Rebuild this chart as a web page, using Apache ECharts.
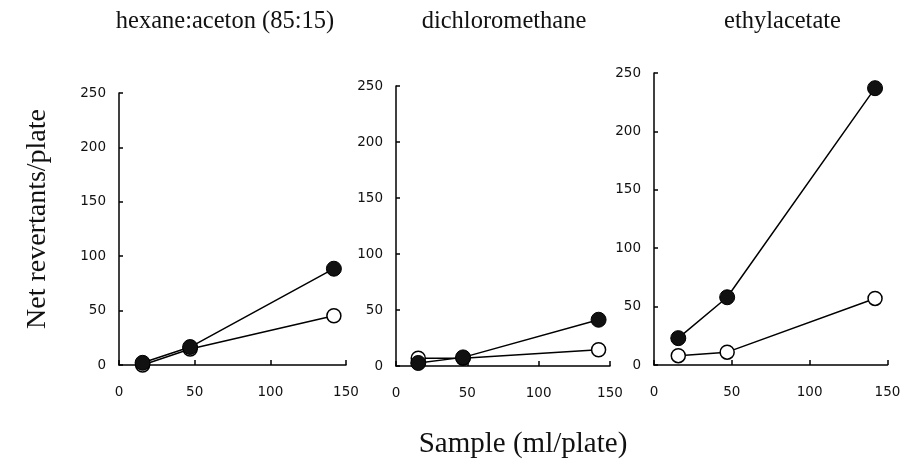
<!DOCTYPE html>
<html>
<head>
<meta charset="utf-8">
<script src="https://cdn.jsdelivr.net/npm/echarts@6/dist/echarts.min.js"></script>
<style>
html,body{margin:0;padding:0;background:#fff;}
#chart{width:913px;height:462px;}
</style>
</head>
<body>
<div id="chart"></div>
<script>
// ---- data ----
var panelTitles = ["hexane:aceton (85:15)", "dichloromethane", "ethylacetate"];
var doses = [15.6, 47, 142];
var xTicks = [0, 50, 100, 150];
var yTicks = [0, 50, 100, 150, 200, 250];
var filledHexane = [2, 16.5, 88.5];
var openHexane = [0, 14.7, 45.3];
var filledDichloro = [2.7, 7.7, 41.3];
var openDichloro = [7, 7, 14.5];
var filledEthyl = [23, 58, 237];
var openEthyl = [8, 11, 57];
var yAxisTitle = "Net revertants/plate";
var xAxisTitle = "Sample (ml/plate)";

var filledSets = [filledHexane, filledDichloro, filledEthyl];
var openSets = [openHexane, openDichloro, openEthyl];

function pairs(xs, ys) {
  return xs.map(function (x, i) { return [x, ys[i]]; });
}

var grids = [
  { left: 119, top: 93, width: 227, height: 272 },
  { left: 396, top: 86, width: 214, height: 280 },
  { left: 654, top: 73, width: 233.5, height: 292 }
];

var axisLineStyle = { color: '#000', width: 1.5 };
var labelFont = { fontFamily: 'DejaVu Sans', fontSize: 13.5, color: '#111' };

var xAxes = [], yAxes = [], series = [], graphics = [];
grids.forEach(function (g, i) {
  xAxes.push({
    type: 'value', gridIndex: i, min: xTicks[0], max: xTicks[xTicks.length - 1], interval: 50,
    axisLine: { show: true, lineStyle: axisLineStyle, onZero: false },
    axisTick: { show: true, inside: true, length: 5, lineStyle: axisLineStyle },
    axisLabel: Object.assign({ margin: 20 }, labelFont),
    splitLine: { show: false }
  });
  yAxes.push({
    type: 'value', gridIndex: i, min: yTicks[0], max: yTicks[yTicks.length - 1], interval: 50,
    axisLine: { show: true, lineStyle: axisLineStyle, onZero: false },
    axisTick: { show: true, inside: true, length: 4, lineStyle: axisLineStyle },
    axisLabel: Object.assign({ margin: 13 }, labelFont),
    splitLine: { show: false }
  });
  series.push({
    type: 'line', xAxisIndex: i, yAxisIndex: i,
    data: pairs(doses, openSets[i]),
    symbol: 'circle', symbolSize: 14,
    itemStyle: { color: '#fff', borderColor: '#000', borderWidth: 1.5 },
    lineStyle: { color: '#000', width: 1.5 },
    z: 2, animation: false
  });
  series.push({
    type: 'line', xAxisIndex: i, yAxisIndex: i,
    data: pairs(doses, filledSets[i]),
    symbol: 'circle', symbolSize: 15,
    itemStyle: { color: '#111', borderColor: '#000', borderWidth: 1 },
    lineStyle: { color: '#000', width: 1.5 },
    z: 3, animation: false
  });
});

var titleCenters = [225, 504, 782.5];
titleCenters.forEach(function (cx, i) {
  graphics.push({
    type: 'text', x: cx, y: 22,
    style: { text: panelTitles[i], textAlign: 'center', textVerticalAlign: 'middle',
      fontFamily: 'Liberation Serif', fontSize: 24.5, fill: '#111' }
  });
});
graphics.push({
  type: 'text', x: 38, y: 219, rotation: Math.PI / 2,
  style: { text: yAxisTitle, textAlign: 'center', textVerticalAlign: 'middle',
    fontFamily: 'Liberation Serif', fontSize: 28, fill: '#111' }
});
graphics.push({
  type: 'text', x: 523, y: 444,
  style: { text: xAxisTitle, textAlign: 'center', textVerticalAlign: 'middle',
    fontFamily: 'Liberation Serif', fontSize: 29, fill: '#111' }
});

var chart = echarts.init(document.getElementById('chart'), null, { renderer: 'canvas' });
chart.setOption({
  animation: false,
  backgroundColor: '#fff',
  grid: grids,
  xAxis: xAxes,
  yAxis: yAxes,
  series: series,
  graphic: graphics
});
</script>
</body>
</html>
